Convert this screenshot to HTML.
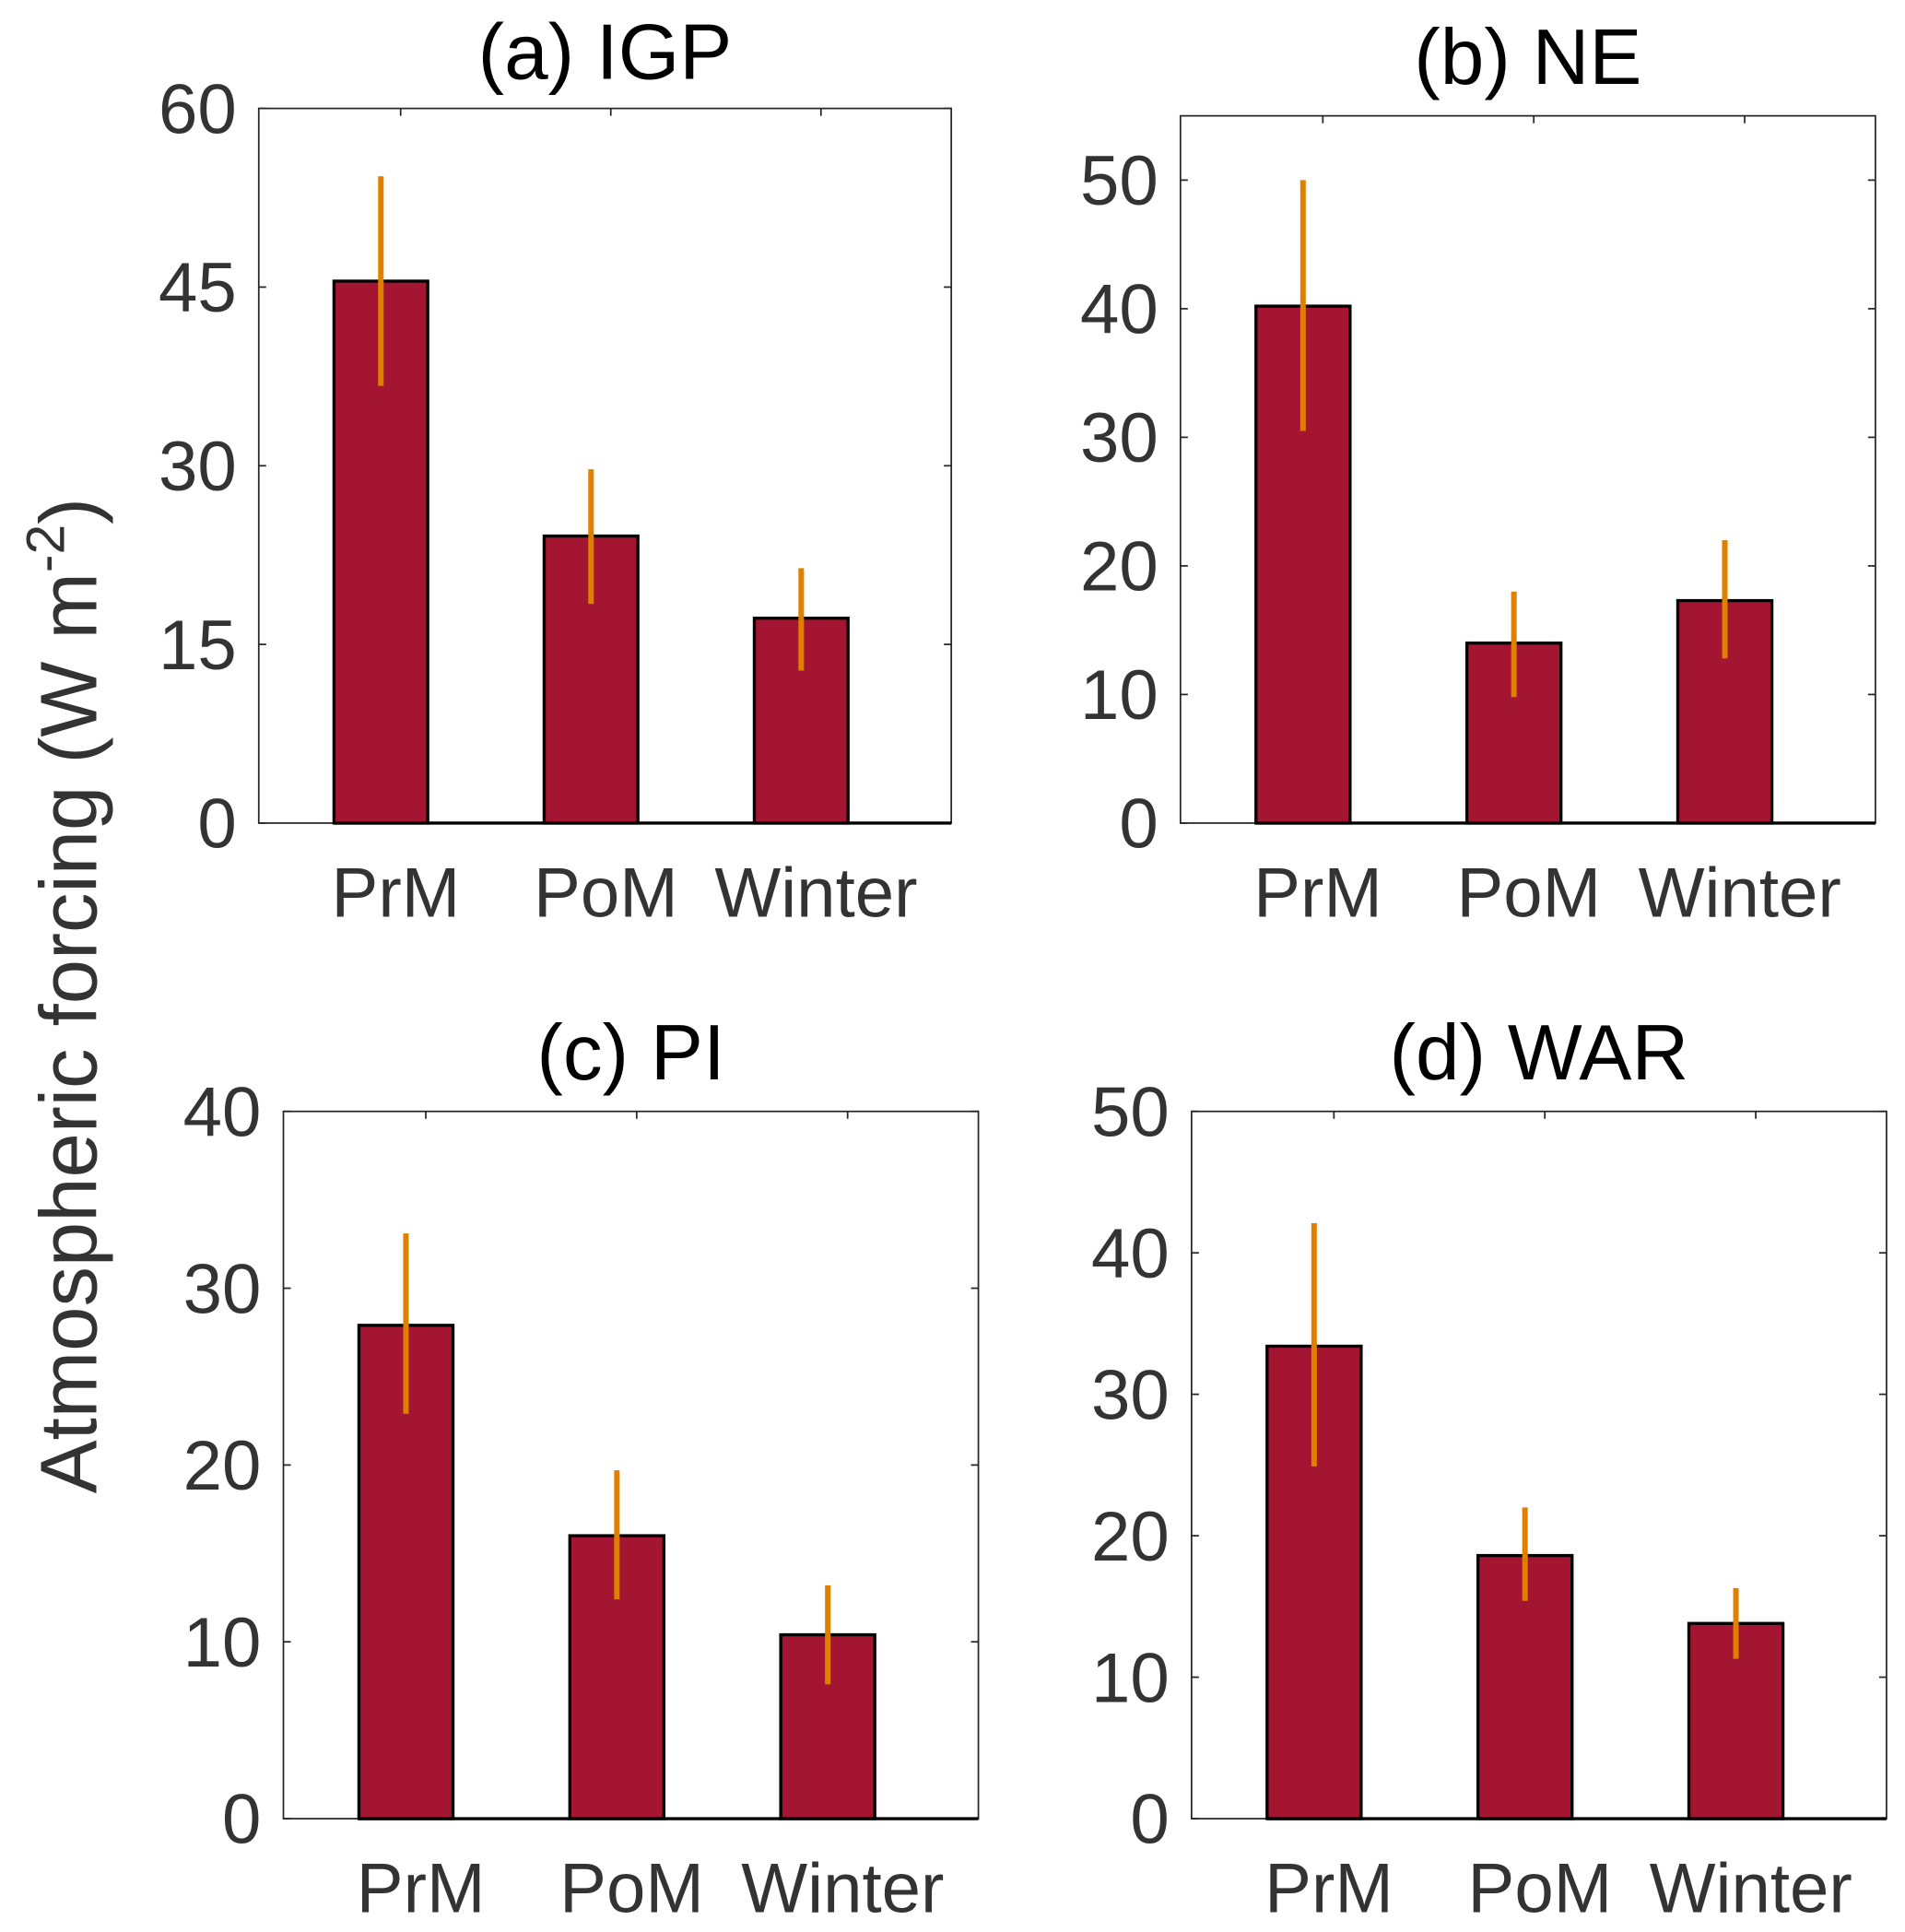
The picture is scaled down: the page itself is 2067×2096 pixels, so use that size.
<!DOCTYPE html>
<html><head><meta charset="utf-8"><style>
html,body{margin:0;padding:0;background:#fff;}
svg{display:block;}
text{font-family:"Liberation Sans",sans-serif;}
</style></head><body>
<svg id="fig" width="2067" height="2096" viewBox="0 0 1546 1568" preserveAspectRatio="none" xmlns="http://www.w3.org/2000/svg">
<text transform="translate(78,808) rotate(-90)" text-anchor="middle" font-size="65" fill="#333">Atmospheric forcing (W m<tspan dy="-26" font-size="44">-2</tspan><tspan dy="26">)</tspan></text>
</svg>
<script>
const categories = ["PrM","PoM","Winter"];
const titles = ["(a) IGP","(b) NE","(c) PI","(d) WAR"];
const valuesA = [45.5, 24.1, 17.2];
const valuesB = [40.2, 14.0, 17.3];
const valuesC = [27.9, 16.0, 10.4];
const valuesD = [33.4, 18.6, 13.8];
const errLowA = [36.7, 18.4, 12.8], errHighA = [54.3, 29.7, 21.4];
const errLowB = [30.5, 9.8, 12.8], errHighB = [50.0, 18.0, 22.0];
const errLowC = [22.9, 12.4, 7.6], errHighC = [33.1, 19.7, 13.2];
const errLowD = [24.9, 15.4, 11.3], errHighD = [42.1, 22.0, 16.3];
const yTicksA = [0,15,30,45,60];
const yTicksB = [0,10,20,30,40,50];
const yTicksC = [0,10,20,30,40];
const yTicksD = [0,10,20,30,40,50];
const yMax = [60, 55, 40, 50];

const NS = "http://www.w3.org/2000/svg";
const svg = document.getElementById("fig");
function mk(tag, attrs, parent){ const e=document.createElementNS(NS,tag); for(const k in attrs) e.setAttribute(k,attrs[k]); (parent||svg).appendChild(e); return e; }

const panels = [
 {L:210,R:772,T:88,B:668,vals:valuesA,lo:errLowA,hi:errHighA,ticks:yTicksA,ym:yMax[0],title:titles[0],tb:64},
 {L:958,R:1522,T:94,B:668,vals:valuesB,lo:errLowB,hi:errHighB,ticks:yTicksB,ym:yMax[1],title:titles[1],tb:68},
 {L:230,R:794,T:902,B:1476,vals:valuesC,lo:errLowC,hi:errHighC,ticks:yTicksC,ym:yMax[2],title:titles[2],tb:876},
 {L:967,R:1531,T:902,B:1476,vals:valuesD,lo:errLowD,hi:errHighD,ticks:yTicksD,ym:yMax[3],title:titles[3],tb:876}
];
const xlo = 0.325, xhi = 3.62, barOff = -0.094, barW = 0.446;

panels.forEach((p, pi) => {
  const g = mk("g", {});
  
  
  const xs = v => p.L + (v - xlo) / (xhi - xlo) * (p.R - p.L);
  const ys = v => p.B - v / p.ym * (p.B - p.T);
  const t = mk("text", {x:(p.L+p.R)/2, y:p.tb, "text-anchor":"middle", "font-size":"64", fill:"#000"}, g);
  t.textContent = p.title;
  
  
  const box = mk("rect", {x:p.L, y:p.T, width:p.R-p.L, height:p.B-p.T, fill:"none", stroke:"#262626", "stroke-width":"1.3"}, g);
  
  
  p.ticks.forEach(tv => {
    const y = ys(tv);
    mk("line", {x1:p.L, x2:p.L+6, y1:y, y2:y, stroke:"#262626", "stroke-width":"1.3"}, g);
    mk("line", {x1:p.R, x2:p.R-6, y1:y, y2:y, stroke:"#262626", "stroke-width":"1.3"}, g);
    const lab = mk("text", {x:p.L-18, y:y+20, "text-anchor":"end", "font-size":"57", fill:"#333"}, g);
    lab.textContent = tv;
    
    
  });
  categories.forEach((c, i) => {
    const cx = xs(i+1);
    mk("line", {x1:cx, x2:cx, y1:p.T, y2:p.T+6, stroke:"#262626", "stroke-width":"1.3"}, g);
    const lab = mk("text", {x:cx-4, y:p.B+76, "text-anchor":"middle", "font-size":"57", fill:"#333"}, g);
    lab.textContent = c;
    
    
  });
  mk("line", {x1:xs(1+barOff-barW/2), x2:p.R, y1:p.B, y2:p.B, stroke:"#000", "stroke-width":"2.5"}, g);
  categories.forEach((c, i) => {
    const bc = xs(i+1+barOff);
    const x0 = xs(i+1+barOff-barW/2), x1 = xs(i+1+barOff+barW/2);
    const bar = mk("rect", {x:x0, y:ys(p.vals[i]), width:x1-x0, height:p.B-ys(p.vals[i]), fill:"#A31530", stroke:"#000", "stroke-width":"2.5"}, g);
    
    
    const eb = mk("line", {x1:bc, x2:bc, y1:ys(p.hi[i]), y2:ys(p.lo[i]), stroke:"#E08000", "stroke-width":"4.5"}, g);
    
    
  });
});
</script>
</body></html>
